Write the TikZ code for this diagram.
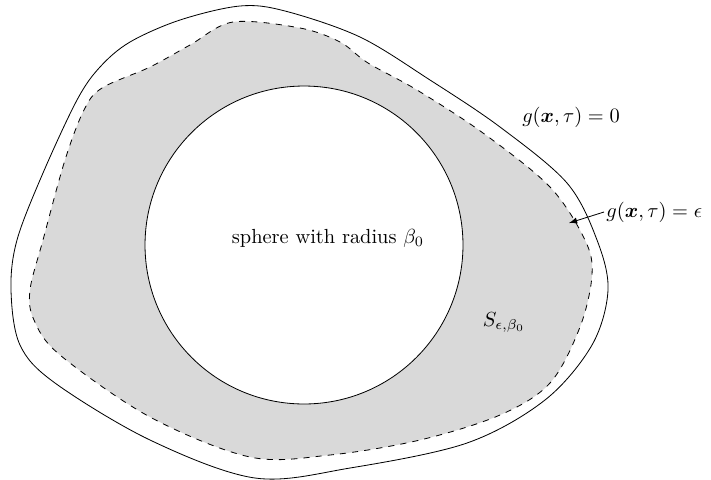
\documentclass[tikz,border=0pt]{standalone}
\usepackage{amsmath}
\usetikzlibrary{positioning}

\begin{document}
\begin{tikzpicture}[x=0.49pt,y=-0.49pt]
  \tikzstyle{region}=[fill=black!15,draw,dashed]
  \tikzstyle{ball}=[draw,circle,fill=white,inner sep=0pt,minimum size=155.8pt]
  \tikzstyle{lbl}=[inner sep=1pt]
  \useasboundingbox (0,0) rectangle (711,479);
  % set S between the ball and the level set g = eps
  \draw[region] plot[smooth cycle,tension=0.55] coordinates {
    (233,22) (300,28) (340,42) (368,63) (417,90) (483,133) (550,187)
    (585,240) (592,275) (580,327) (550,383) (500,415) (420,440)
    (330,455) (250,457) (150,417) (60,355) (34,320) (30,290) (43,240)
    (65,160) (84,110) (102,88) (150,67) (190,45)};
  % level set g = 0
  \draw plot[smooth cycle,tension=0.55] coordinates {
    (240,6) (285,11) (360,37) (430,80) (500,127) (567,183) (597,240)
    (608,290) (592,345) (545,400) (467,443) (350,468) (255,478)
    (150,440) (55,383) (20,345) (11,290) (17,240) (43,173) (77,100)
    (100,67) (130,42) (180,20)};
  \node[ball] (sphere) at (304,245) {};
  \node[lbl] (sph) at (328,238) {sphere with radius $\beta_0$};
  \node[lbl] (seps) at (504,322) {$S_{\epsilon,\beta_0}$};
  \node[lbl] (gzero) at (571,117) {$g(\boldsymbol{x},\tau)=0$};
  \node[lbl,anchor=west] (geps) at (604,212) {$g(\boldsymbol{x},\tau)=\epsilon$};
  \coordinate (tip) at (569,223);
  \draw[-latex] (geps.west) -- (tip);
\end{tikzpicture}
\end{document}
